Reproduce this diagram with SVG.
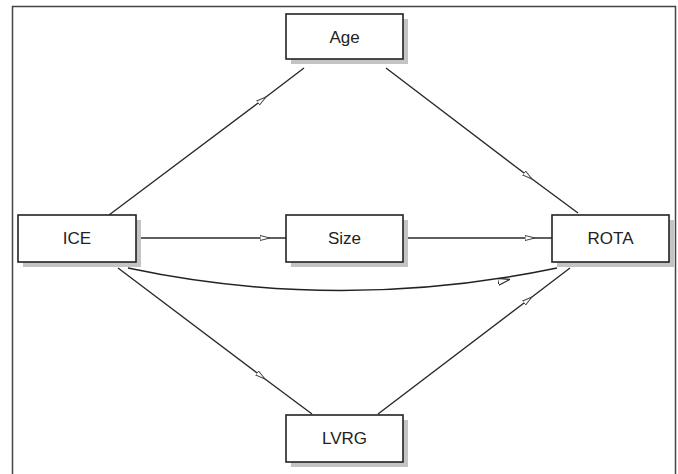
<svg xmlns="http://www.w3.org/2000/svg" width="678" height="474" viewBox="0 0 678 474">
<defs>
<marker id="arr" viewBox="0 0 10 6" refX="5" refY="3" markerWidth="10" markerHeight="6" markerUnits="userSpaceOnUse" orient="auto">
<path d="M0,0.5 L10,3 L0,5.5 Z" fill="#fff" stroke="#444" stroke-width="1"/>
</marker>
<marker id="arr2" viewBox="0 0 12 8" refX="6" refY="4" markerWidth="12" markerHeight="8" markerUnits="userSpaceOnUse" orient="auto">
<path d="M0,0.5 L12,4 L0,7.5 Z" fill="#fff" stroke="#222" stroke-width="1.2"/>
</marker>
</defs>
<style>
.box{fill:#fff;stroke:#222;stroke-width:1.6}
.lbl{font-family:"Liberation Sans",Arial,sans-serif;font-size:17px;fill:#222;text-anchor:middle;dominant-baseline:central}
.e{fill:none;stroke:#2a2a2a;stroke-width:1.4;marker-mid:url(#arr)}
</style>
<rect width="678" height="474" fill="#fff"/>
<path d="M12.5,474 L12.5,6.5 L675.5,6.5 L675.5,474" fill="none" stroke="#444" stroke-width="1.5"/>
<g id="connectors">
<path class="e" d="M109,215 L262,100 L304,68"/>
<path class="e" d="M386,68 L528,176 L578,213"/>
<path class="e" d="M136,238 L265,238 L286,238"/>
<path class="e" d="M403,238 L530,238 L552,238"/>
<path class="e" d="M118,268 L261,376 L312,414"/>
<path class="e" d="M378,414 L528,300 L570,268"/>
<path d="M128,268 Q340,313 557,268" fill="none" stroke="#222" stroke-width="1.4"/>
<path d="M494,282.6 L504,280.6" fill="none" stroke="none" marker-end="url(#arr2)"/>
</g>
<g id="Age"><rect x="291" y="19" width="117" height="45" fill="#c4c4c4"/><rect class="box" x="286" y="14" width="117" height="45"/><text class="lbl" x="344.5" y="37">Age</text></g>
<g id="ICE"><rect x="23" y="220" width="118" height="47" fill="#c4c4c4"/><rect class="box" x="18" y="215" width="118" height="47"/><text class="lbl" x="77" y="238.5">ICE</text></g>
<g id="Size"><rect x="291" y="220" width="117" height="47" fill="#c4c4c4"/><rect class="box" x="286" y="215" width="117" height="47"/><text class="lbl" x="344.5" y="238.5">Size</text></g>
<g id="ROTA"><rect x="557" y="220" width="117" height="47" fill="#c4c4c4"/><rect class="box" x="552" y="215" width="117" height="47"/><text class="lbl" x="610.5" y="238.5">ROTA</text></g>
<g id="LVRG"><rect x="291" y="420" width="117" height="47" fill="#c4c4c4"/><rect class="box" x="286" y="415" width="117" height="47"/><text class="lbl" x="344.5" y="438.5">LVRG</text></g>
</svg>
